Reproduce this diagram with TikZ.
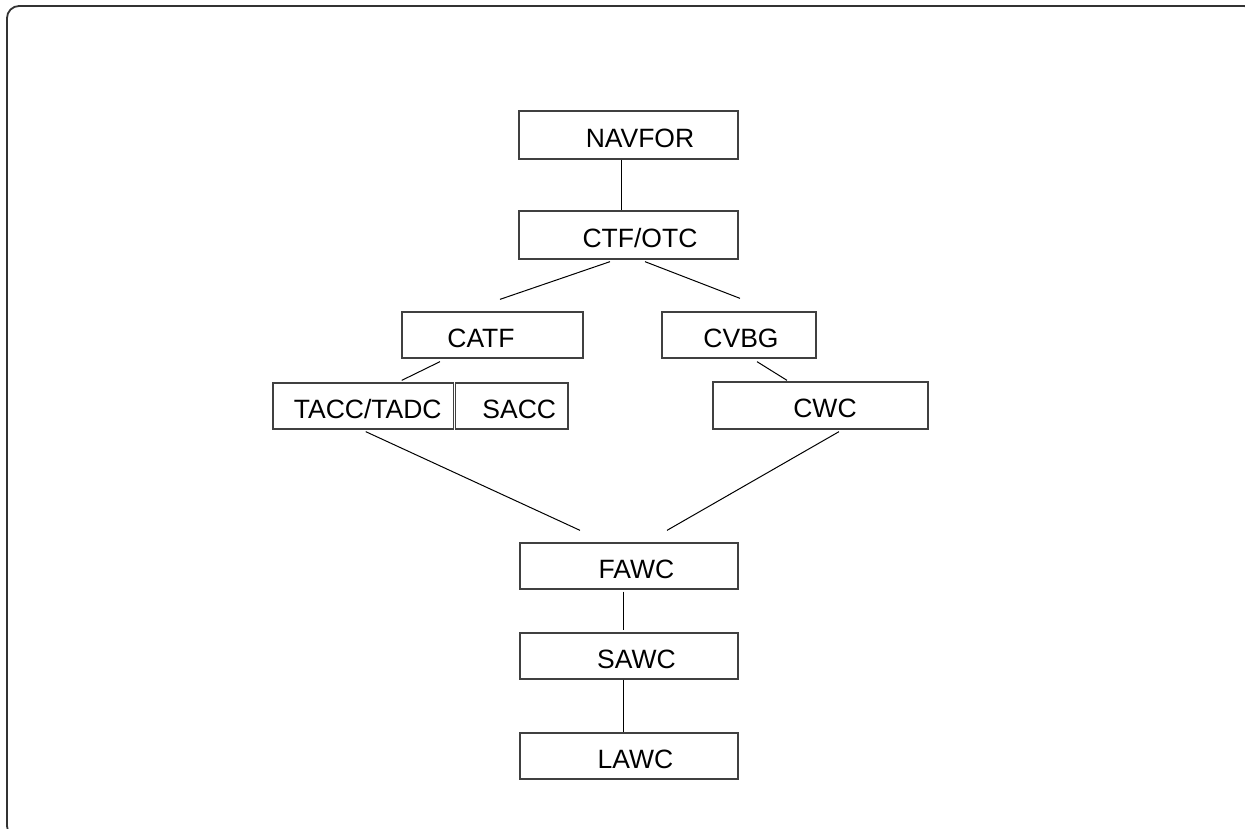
\documentclass[tikz,border=0pt]{standalone}
\usepackage{fontspec}
\setmainfont{Liberation Sans}

\begin{document}
\begin{tikzpicture}[x=1pt,y=-1pt,
    box/.style={draw=black!75, line width=1.3pt, inner sep=0pt, minimum height=46pt,
      text height=24pt, text depth=0pt, font=\fontsize{26.5}{30}\selectfont},
    sh/.style={execute at begin node={\hspace*{#1}}},
    link/.style={line width=1pt}]

      \useasboundingbox (0,0) rectangle (1245,828);
      \clip (0,0) rectangle (1245,828);

      % frame
      \draw[line width=1.8pt, black!80, rounded corners=12pt] (7,6) rectangle (1256,838);

      % top
      \node[box, minimum width=219pt, minimum height=48pt, sh=23pt] (navfor) at (628.5,135) {NAVFOR};
      \node[box, minimum width=219pt, minimum height=48pt, sh=23pt] (ctfotc) at (628.5,235) {CTF/OTC};

      % left branch
      \node[box, minimum width=181pt, sh=-23pt] (catf) at (492.5,335) {CATF};
      \node[box, minimum width=180.5pt, sh=9pt] (tacc) at (363.25,406) {TACC/TADC};
      \node[box, minimum width=112.5pt, sh=15pt] (sacc) at (511.75,406) {SACC};

      % right branch
      \node[box, minimum width=154pt, sh=4pt] (cvbg) at (739,335) {CVBG};
      \node[box, minimum width=215pt, minimum height=47pt, sh=9pt] (cwc) at (820.5,405.5) {CWC};

      % bottom
      \node[box, minimum width=218pt, sh=15pt] (fawc) at (629,566) {FAWC};
      \node[box, minimum width=218pt, sh=15pt] (sawc) at (629,656) {SAWC};
      \node[box, minimum width=218pt, sh=13pt] (lawc) at (629,756) {LAWC};

      % links
      \draw[link] ([xshift=-7.5pt]navfor.south) to ([xshift=-7.5pt]ctfotc.north);
      \draw[link] ([xshift=-18.5pt,yshift=-2pt]ctfotc.south) to ([xshift=7.5pt,yshift=12pt]catf.north);
      \draw[link] ([xshift=16.5pt,yshift=-2pt]ctfotc.south) to ([xshift=1pt,yshift=13pt]cvbg.north);
      \draw[link] ([xshift=-52.5pt,yshift=-3pt]catf.south) to ([xshift=38.5pt,yshift=2pt]tacc.north);
      \draw[link] ([xshift=18pt,yshift=-3pt]cvbg.south) to ([xshift=-33.5pt,yshift=1pt]cwc.north);
      \draw[link] ([xshift=2.5pt,yshift=-2pt]tacc.south) to ([xshift=-49pt,yshift=12pt]fawc.north);
      \draw[link] ([xshift=18.5pt,yshift=-2pt]cwc.south) to ([xshift=38pt,yshift=12pt]fawc.north);
      \draw[link] ([xshift=-5.5pt,yshift=-2pt]fawc.south) to ([xshift=-5.5pt,yshift=2pt]sawc.north);
      \draw[link] ([xshift=-5.5pt]sawc.south) to ([xshift=-5.5pt]lawc.north);
    \end{tikzpicture}
\end{document}
